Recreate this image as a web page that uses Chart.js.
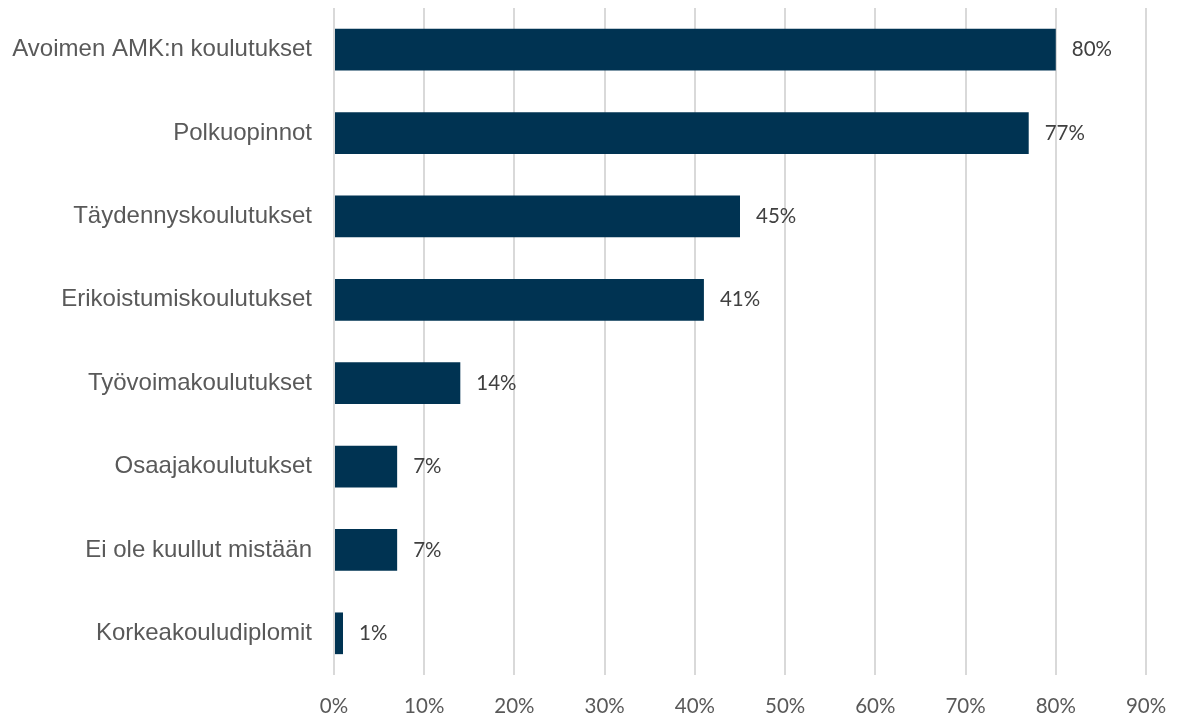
<!DOCTYPE html>
<html>
<head>
<meta charset="utf-8">
<script src="https://cdn.jsdelivr.net/npm/chart.js@4"></script>
<style>
  html, body { margin: 0; padding: 0; background: #fff; overflow: hidden; }
  #wrap { width: 1177px; height: 715px; }
</style>
</head>
<body>
<div id="wrap"><canvas id="chart" width="1177" height="715"></canvas></div>
<script>
const categories = [
  "Avoimen AMK:n koulutukset",
  "Polkuopinnot",
  "Täydennyskoulutukset",
  "Erikoistumiskoulutukset",
  "Työvoimakoulutukset",
  "Osaajakoulutukset",
  "Ei ole kuullut mistään",
  "Korkeakouludiplomit"
];
const values = [80, 77, 45, 41, 14, 7, 7, 1];
const xTicks = [0, 10, 20, 30, 40, 50, 60, 70, 80, 90];

// draws the "80%" labels next to each bar
const barLabels = {
  id: "barLabels",
  afterDatasetsDraw(chart) {
    const ctx = chart.ctx;
    const meta = chart.getDatasetMeta(0);
    ctx.save();
    ctx.font = "20.5px Lato, 'Open Sans', sans-serif";
    ctx.fillStyle = "#404040";
    ctx.textAlign = "left";
    ctx.textBaseline = "middle";
    meta.data.forEach((bar, i) => {
      ctx.fillText(values[i] + "%", bar.x + 16, bar.y);
    });
    ctx.restore();
  }
};

const chart = new Chart(document.getElementById("chart"), {
  type: "bar",
  data: {
    labels: categories,
    datasets: [{
      data: values,
      backgroundColor: "#003352",
      categoryPercentage: 1,
      barPercentage: 0.5
    }]
  },
  options: {
    indexAxis: "y",
    responsive: false,
    animation: false,
    layout: { padding: { top: 8, right: 31, left: 0, bottom: 0 } },
    plugins: { legend: { display: false }, tooltip: { enabled: false } },
    scales: {
      x: {
        min: 0,
        max: 90,
        afterBuildTicks: (s) => { s.ticks = xTicks.map((v) => ({ value: v })); },
        afterFit: (s) => { s.height = 40; s.paddingLeft = 0; s.paddingRight = 0; },
        grid: { color: "#d9d9d9", lineWidth: 2, drawTicks: false },
        border: { display: false },
        ticks: {
          padding: 19,
          color: "#595959",
          font: { family: "Lato, 'Open Sans', sans-serif", size: 20.5 },
          callback: (v) => v + "%"
        }
      },
      y: {
        afterFit: (s) => { s.width = 334; s.paddingTop = 0; s.paddingBottom = 0; },
        grid: { display: false, drawTicks: false },
        border: { display: false },
        ticks: {
          padding: 22,
          color: "#595959",
          font: { family: "'Liberation Sans', Arial, sans-serif", size: 24 }
        }
      }
    }
  },
  plugins: [barLabels]
});
</script>
</body>
</html>
